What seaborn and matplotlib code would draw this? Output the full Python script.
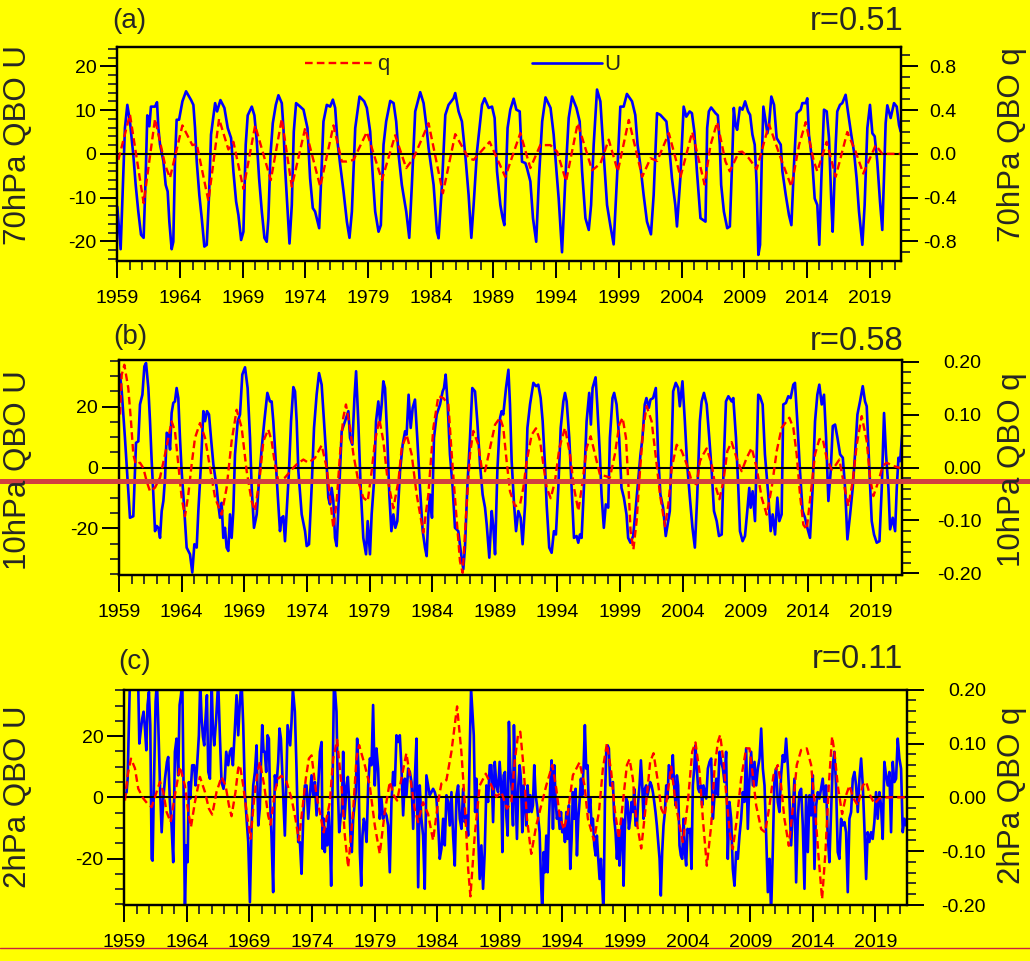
import numpy as np
import pandas as pd
import matplotlib
matplotlib.use("Agg")
import matplotlib.pyplot as plt
import seaborn as sns
from matplotlib.lines import Line2D
from matplotlib.ticker import MultipleLocator, FixedLocator

sns.set_style("ticks")
plt.rcParams['font.family'] = ['Liberation Sans', 'DejaVu Sans']
plt.rcParams['axes.unicode_minus'] = False
plt.rcParams['lines.scale_dashes'] = False

# ---------------- data: (month index since Jan 1959, value) ----------------
# (a) 70 hPa QBO U
a_u1 = [(0,-12.1),(3.2,-21.8),(7.3,5.9),(9.6,11.2),(12.1,7.4),(15.3,-0.2),(17.6,-7.1),(20.1,-13.2),(22.7,-18.5),(25.2,-19.2),
        (27.1,-5.6),(28.7,8.8),(30.7,6.3),(32.2,10.8),(36.1,10.8),(38.0,11.8),(39.3,5.9),(40.9,2.1),(44.1,-1.7),(46.3,-7.1),
        (48.2,-8.6),(49.8,-15.5),(52.0,-21.8),(53.6,-20.1),(55.2,-1.7),(56.8,7.8),(59.1,7.8),(62.3,12.0),(65.8,14.3),(70.6,12.3),
        (72.8,11.2),(74.4,5.9),(76.0,-1.7),(78.5,-9.4),(80.8,-14.7),(83.3,-21.2),(85.6,-20.8),(87.8,-9.4),(89.7,4.4),(93.6,11.6),
        (95.5,9.7),(98.7,12.3),(102.5,10.5),(105.7,5.9),(108.9,3.6),(111.1,-4.0),(113.7,-10.9),(115.9,-14.0),(118.5,-19.7),(120.7,-17.8),
        (122.9,2.1),(124.8,8.8),(128.7,10.8),(131.2,8.8),(133.5,2.8),(135.7,-5.6),(138.3,-13.2),(140.8,-19.2),(143.0,-20.1),(144.6,-14.7),
        (146.6,-0.2),(148.8,7.0),(151.7,11.2),(154.2,13.4),(157.4,11.6),(159.0,5.9),(160.6,-3.3),(162.5,-10.9),(164.8,-20.5),(167.0,-11.7),
        (168.9,5.1),(171.1,11.6),(175.0,10.8),(178.2,10.1)]
a_u2 = [(182.0,5.9),(184.5,-5.6),(187.1,-12.4),(189.3,-13.2),(193.2,-17.0),(195.1,-5.6),(197.3,7.4),(200.5,11.2),(203.7,10.8),(206.3,12.4),
        (208.5,10.5),(210.7,2.8),(213.3,-2.5),(216.5,-8.6),(219.7,-15.5),(222.2,-19.2),(224.5,-13.2),(227.7,5.9),(231.8,13.1),(236.3,12.0),
        (238.8,10.5),(242.0,5.1),(244.6,-5.6),(246.8,-13.2),(250.0,-17.8),(252.2,-16.3),(254.8,2.1),(257.3,7.4),(261.2,12.1),(264.4,11.6),
        (266.9,7.4),(269.2,-0.2),(272.3,-7.1),(276.5,-13.2),(279.4,-19.2),(281.9,-7.1),(285.1,9.7),(289.9,14.1),(293.1,11.6),(295.7,6.6),
        (297.9,1.3),(300.1,-2.5),(302.7,-7.1),(305.9,-17.8),(307.5,-19.3),(310.7,-7.1),(313.9,8.9),(317.0,11.2),(321.8,12.7),(323.4,13.9),
        (326.6,9.7),(329.8,7.4),(333.0,-0.2),(336.2,-9.4),(338.8,-19.2),(341.0,-11.7),(344.2,0.5),(349.0,11.2),(351.5,12.7),(355.4,10.5),
        (358.6,10.8),(361.1,8.2),(363.4,-4.0),(365.0,-7.9),(366.6,-11.7),(368.8,-14.7),(370.4,-16.3)]
a_u3 = [(373.5,5.9),(376.1,10.1),(379.3,12.6),(381.9,10.1),(385.1,9.7),(387.3,-1.8),(390.5,-2.1),(392.1,-3.3),(395.3,-6.3),(397.8,-14.7),
        (400.9,-20.1),(403.5,-5.6),(406.6,7.4),(409.8,12.9),(414.6,10.5),(417.6,4.4),(420.3,-4.0),(422.4,-10.2),(425.6,-22.5),(428.8,-5.6),
        (432.0,8.2),(435.2,13.1),(439.4,10.5),(442.5,7.4),(444.8,-4.0),(448.0,-14.7),(451.2,-17.4),(453.4,-11.7),(455.9,2.1),(459.1,14.7),
        (462.3,12.0),(465.5,-0.2),(468.7,-11.7),(471.8,-16.3),(475.0,-20.7),(478.2,-5.6),(481.4,10.8),(484.6,10.8),(487.7,13.7),(492.6,12.0),
        (495.7,8.9),(497.9,2.1),(500.5,-2.5),(503.7,-9.4),(506.9,-15.5),(510.7,-18.4),(513.3,-9.4),(516.5,9.3),(519.7,8.9),(525.5,7.4),
        (528.6,0.5),(530.8,-5.6),(534.0,-11.7),(535.6,-16.6),(538.8,-5.6),(542.0,10.8),(544.5,8.5),(547.7,9.7),(549.9,9.3),(552.2,5.1),
        (554.7,-4.0)]
a_u4 = [(558.1,-14.7),(562.9,-15.5),(564.5,5.9),(566.1,9.7),(568.3,10.6),(572.5,9.3),(574.7,8.8),(576.6,2.1),(577.9,-7.1),(580.5,-13.2),
        (583.7,-17.0),(586.2,-16.6),(588.4,-1.8),(590.0,10.5),(591.6,6.6),(593.2,5.5),(595.8,10.6),(598.3,10.1),(600.8,12.0),(603.7,9.7),
        (605.6,8.9),(607.8,4.4),(610.0,2.1),(611.9,-7.1),(613.5,-23.1),(615.1,-20.8),(616.7,-1.8),(618.3,10.8),(620.5,7.4),(622.1,4.7),
        (623.7,6.6),(625.9,13.1),(628.5,11.2),(631.0,3.6),(634.9,2.1),(636.5,-4.0),(639.7,-9.4),(642.8,-14.0),(645.1,-16.3),(647.6,-2.5),
        (650.2,9.3),(654.0,10.1),(655.6,11.6),(658.8,11.6),(660.3,12.7),(661.9,4.4),(665.1,-1.8),(667.4,-10.2),(669.9,-11.7),(671.8,-20.8),
        (673.8,-5.6),(676.3,10.1),(678.9,9.7),(681.1,3.6),(683.3,-10.9),(684.6,-17.8),(687.5,2.1),(689.0,9.7),(691.6,11.2),(693.8,11.6),
        (697.0,13.5),(699.2,9.7),(702.4,4.4),(705.0,0.5),(707.5,-5.6),(709.8,-13.2),(713.0,-20.8),(715.2,-11.7),(717.8,5.9),(720.3,11.2),
        (722.6,4.7),(724.8,4.0),(727.3,-1.8),(729.9,-10.9),(732.1,-17.4),(733.7,-5.6),(735.3,7.0),(736.9,11.1),(740.1,8.2),(743.3,11.6),
        (745.9,10.8),(748.1,6.6),(749.7,5.1)]
# (a) 70 hPa QBO q
a_q1 = [(1.0,-0.055),(12.1,0.36),(25.2,-0.45),(36.1,0.32),(45.7,-0.10),(50.4,-0.22),(62.3,0.26),(71.8,0.08),(76.0,0.09),(87.2,-0.43),
        (97.4,0.32),(106.3,0.04),(111.1,0.11),(120.7,-0.32),(131.9,0.26),(146.9,-0.24),(157.4,0.32),(167.0,-0.30),(179.8,0.235)]
a_q2 = [(194.2,-0.30),(206.9,0.26),(214.9,-0.07),(219.7,-0.07),(226.1,-0.055),(238.8,0.20),(253.2,-0.24),(265.9,0.17),(276.5,-0.13),
        (283.5,-0.04),(297.9,0.28),(311.6,-0.36),(323.4,0.18),(336.2,-0.04),(341.0,-0.055),(356.3,0.11),(371.3,-0.21)]
a_q3 = [(385.7,0.19),(395.3,-0.13),(404.8,0.08),(414.4,0.08),(420.9,0.02),(429.5,-0.25),(440.6,0.28),(454.4,-0.15),(462.3,-0.09),
        (470.3,0.13),(479.0,-0.16),(489.5,0.31),(502.3,-0.21),(510.3,-0.04),(516.7,-0.065),(527.8,0.19),(539.0,-0.21),(550.2,0.20),(562.0,-0.28)]
a_q4 = [(567.7,0.08),(574.1,0.29),(582.0,-0.07),(586.2,-0.16),(594.8,0.015),(598.0,0.02),(604.4,-0.04),(611.9,-0.14),(623.7,0.27),
        (634.9,-0.04),(645.1,-0.30),(652.4,0.08),(658.8,0.29),(666.6,-0.07),(669.9,-0.16),(678.9,0.11),(687.5,-0.21),(698.6,0.20),
        (706.6,0.02),(713.9,-0.18),(725.8,0.08),(732.1,0.0),(749.7,0.0)]

# (b) 10 hPa QBO U
b_u1 = [(1.0,30.5),(2.6,25.0),(5.7,9.7),(8.3,-4.5),(10.5,-16.5),(13.7,-16.0),(15.3,-1.2),(16.3,8.1),(18.5,8.6),(20.1,20.7),
        (22.4,23.9),(24.3,33.2),(25.9,34.3),(28.1,26.1),(29.7,15.2),(31.3,2.1),(32.9,-8.9),(34.5,-20.9),(36.1,-19.2),(37.7,-19.8),
        (39.3,-23.1),(40.9,-14.3),(42.5,-11.0),(44.1,-3.4),(45.7,11.4),(47.3,10.8),(48.9,5.9),(50.4,17.9),(52.0,21.2),(53.6,21.7),
        (55.2,26.1),(56.8,22.8),(58.4,9.7),(60.0,-1.2),(61.6,-8.9),(63.2,-17.6),(64.8,-26.3),(68.0,-28.5),(70.2,-34.5),(72.2,-25.2),
        (74.4,-26.3),(76.0,-14.3),(78.5,1.0),(80.8,18.5),(82.4,15.2),(84.3,18.5),(86.2,17.4),(88.1,9.7),(90.4,1.0),(93.6,-6.7),
        (95.1,-12.1),(96.7,-16.5),(98.3,-11.6),(99.9,-23.1),(101.5,-19.8),(103.1,-26.3),(104.7,-27.4),(106.3,-15.4),(107.9,-23.1),(109.5,-14.3),
        (111.1,4.3),(113.7,15.2),(115.9,17.4),(118.1,30.5),(120.7,32.9),(123.2,26.1),(125.5,9.7),(127.1,-6.7),(129.3,-19.8),(131.9,-15.4),
        (134.1,-4.5),(136.7,6.4),(139.2,15.2),(142.1,24.5),(144.6,21.7),(146.2,21.7),(147.8,15.2),(149.4,6.4),(152.0,-8.9),(154.2,-20.9),
        (155.8,-16.5),(157.4,-16.0),(159.0,-24.2),(160.6,-14.3),(162.8,-1.2),(164.8,15.2),(167.0,26.4),(168.6,25.0),(170.2,15.2),(171.8,-1.2),
        (175.0,-15.4),(178.2,-20.9),(179.8,-25.8),(182.0,-25.2)]
b_u2 = [(184.5,-6.7),(186.8,13.0),(189.3,23.9),(191.6,31.0),(194.1,27.2),(196.6,14.1),(198.4,4.3),(200.5,-9.9),(202.1,-12.1),(203.7,-6.7),
        (205.3,-11.0),(206.9,-23.1),(208.5,-25.8),(211.0,-6.7),(213.3,11.9),(216.5,15.2),(219.7,18.5),(221.3,9.7),(223.5,7.5),(225.5,22.8),
        (227.1,31.6),(229.2,15.2),(231.5,-6.7),(234.0,-23.1),(236.6,-28.5),(238.2,-17.6),(240.4,-28.5),(242.0,-15.4),(244.3,-4.5),(246.2,15.2),
        (248.4,21.7),(250.0,15.2),(251.6,20.7),(253.2,28.3),(254.8,26.1),(257.0,9.7),(258.9,-8.9),(260.9,-20.9),(262.8,-15.4),(264.7,-19.8),
        (266.6,-17.6),(269.2,-1.2),(271.7,7.5),(274.0,11.9),(275.5,10.8),(277.4,23.9),(279.4,13.0),(281.3,19.6),(283.5,22.3),(285.7,9.7),
        (288.3,-6.7),(290.9,-20.9),(293.1,-26.3),(294.7,-29.1),(296.3,-15.4),(297.9,-8.9),(299.8,-16.5),(301.7,9.7),(304.3,17.4),(307.5,20.7),
        (310.0,25.0),(311.3,26.1),(312.9,30.5),(314.8,20.7),(317.0,4.3),(319.6,-6.7),(321.8,-19.8),(325.0,-20.9),(327.3,-27.4),(329.8,-33.4),
        (331.4,-26.3),(333.6,-6.7),(336.2,9.7),(338.4,26.1),(341.0,25.0),(343.2,15.2),(345.8,1.0),(348.3,-8.9),(350.6,-13.2),(352.2,-18.7),
        (354.7,-29.6),(357.0,-14.3),(358.6,-19.8),(360.2,-28.5),(362.4,-1.2),(365.0,16.3)]
b_u3 = [(366.5,18.5),(368.1,17.4),(370.7,26.1),(373.0,32.1),(374.5,20.7),(376.1,2.1),(378.4,-12.1),(380.3,-20.9),(382.5,-14.3),(384.7,-16.5),
        (386.6,-25.2),(389.0,-12.1),(391.2,13.0),(393.7,20.7),(396.9,27.8),(399.4,26.7),(401.6,27.2),(403.9,22.8),(405.8,15.2),(408.0,1.0),
        (409.6,-12.1),(412.1,-26.3),(414.4,-28.0),(416.6,-20.9),(418.5,-22.0),(420.8,-6.7),(423.1,13.0),(425.6,21.7),(427.2,24.5),(428.8,21.7),
        (431.3,9.7),(433.6,-6.7),(435.8,-23.1),(438.3,-22.5),(439.9,-24.7),(441.5,-22.0),(443.1,-23.1),(445.3,-6.7),(447.9,15.2),(450.4,24.5),
        (452.0,14.1),(453.6,26.1),(456.5,29.6),(458.1,20.7),(460.6,4.3),(462.2,-8.9),(464.4,-19.8),(466.3,-12.1),(468.6,-13.2),(470.2,9.7),
        (472.7,22.8),(474.3,24.5),(476.6,20.7),(479.1,9.7),(481.3,-6.7),(483.6,-9.9),(486.1,-15.4),(487.7,-23.1),(489.9,-24.7),(492.5,-22.5),
        (495.0,-13.2),(497.2,-4.5),(499.5,4.3),(501.4,9.7),(503.6,20.7),(505.2,22.8),(507.5,19.6),(509.1,22.3),(511.6,22.8),(514.2,26.1),
        (516.4,4.3),(518.6,-8.9),(521.2,-13.2),(523.7,-22.5),(526.0,-17.6),(527.6,-14.3),(529.2,4.3),(530.8,25.0),(533.3,27.8),(535.6,26.1),
        (537.2,20.1),(539.7,28.3),(542.0,15.2),(544.2,1.0),(546.8,-9.9),(549.3,-19.8),(551.6,-26.3),(553.8,-9.9),(556.4,15.2)]
b_u4 = [(558.1,21.7),(560.3,24.5),(562.9,20.7),(565.4,9.7),(567.7,-1.2),(569.9,-14.3),(572.5,-17.6),(574.7,-22.5),(577.3,-22.0),(579.5,4.3),
        (581.4,21.7),(583.7,23.4),(586.8,21.7),(588.4,22.8),(591.0,9.7),(593.2,-6.7),(594.8,-20.9),(597.3,-24.2),(599.6,-22.5),(601.8,-14.3),
        (603.7,-6.7),(605.0,-13.2),(606.9,-7.8),(609.2,-17.6),(610.8,4.3),(612.3,23.9),(613.9,23.4),(616.5,20.7),(618.7,4.3),(621.9,-8.9),
        (624.2,-20.9),(626.1,-15.4),(628.4,-22.0),(630.6,-9.9),(632.5,-17.6),(634.7,-15.4),(636.3,20.7),(638.8,21.2),(641.1,23.4),(643.3,22.8),
        (645.9,27.2),(647.5,27.8),(649.7,15.2),(652.3,-1.2),(654.8,-14.3),(657.1,-16.5),(659.3,-19.8),(661.9,-23.1),(664.4,-6.7),(666.7,15.2),
        (668.9,23.9),(670.8,27.2),(673.1,20.7),(675.3,23.9),(677.3,9.7),(679.5,-11.0),(681.7,-1.2),(683.7,13.6),(685.9,14.1),(688.2,9.7),
        (690.7,4.3),(693.3,3.2),(695.5,-6.7),(697.7,-23.6),(700.3,-15.4),(702.8,-6.7),(705.0,4.3),(707.3,17.4),(709.8,21.7),(712.4,26.7),
        (714.6,21.7),(716.2,20.1),(718.8,-1.2),(721.0,-17.6),(723.2,-22.0),(725.8,-24.7),(728.4,-24.2),(730.6,-6.7),(732.8,17.9),(734.7,4.3),
        (737.0,-6.7),(738.6,-20.3),(741.1,-16.5),(743.4,-20.9),(745.0,-6.7),(746.6,3.2),(748.2,2.1),(750.4,11.9)]
# (b) 10 hPa QBO q
b_q1 = [(1.0,0.100),(2.6,0.175),(5.1,0.194),(8.9,0.150),(11.5,0.087),(13.7,0.025),(16.0,0.006),(20.1,0.009),(23.3,-0.001),(26.5,-0.026),
        (29.7,-0.045),(34.5,-0.038),(39.3,-0.019),(44.1,0.025),(50.4,0.087),(53.6,0.069),(56.8,0.006),(60.0,-0.057),(63.2,-0.092),(66.4,-0.051),
        (69.6,0.006),(72.8,0.056),(77.6,0.084),(82.4,0.056),(87.2,-0.001),(92.0,-0.057),(98.3,-0.089),(103.1,-0.038),(107.9,0.050),(112.7,0.109),
        (117.5,0.075),(122.3,-0.007),(127.1,-0.064),(130.3,-0.082),(135.1,-0.013),(138.3,0.050),(143.0,0.072),(146.2,0.050),(149.4,0.006),(152.6,-0.026),
        (159.0,-0.019),(165.4,-0.004),(170.2,0.006),(176.6,0.015),(181.4,0.009)]
b_q2 = [(187.7,0.018),(194.1,0.042),(199.0,-0.001),(202.1,-0.057),(205.3,-0.114),(208.5,-0.064),(211.7,0.025),(214.8,0.094),(217.4,0.119),
        (221.3,0.075),(224.5,0.025),(229.2,-0.026),(234.0,-0.057),(238.2,-0.064),(242.0,-0.007),(245.2,0.050),(249.4,0.091),(253.2,0.050),
        (257.0,-0.019),(262.8,-0.077),(267.6,-0.026),(270.8,0.037),(275.5,0.062),(280.3,0.025),(285.1,-0.051),(291.5,-0.123),(296.3,-0.051),
        (301.1,0.075),(305.9,0.135),(310.7,0.131),(315.5,0.119),(318.7,0.025),(321.8,-0.057),(326.6,-0.177),(329.2,-0.199),(333.0,-0.070),
        (336.2,0.025),(339.4,0.069),(344.2,0.043),(347.4,-0.001),(350.6,-0.007),(355.4,0.037),(360.2,0.081),(365.0,0.094)]
b_q3 = [(368.1,0.075),(371.3,0.012),(374.5,-0.045),(379.3,-0.073),(384.1,-0.070),(387.3,-0.038),(390.5,0.012),(395.3,0.062),(399.4,0.074),
        (403.3,0.050),(406.5,0.006),(409.6,-0.038),(413.5,-0.058),(417.6,-0.026),(421.8,0.037),(427.2,0.075),(432.0,0.025),(435.8,-0.038),
        (440.0,-0.082),(444.1,-0.026),(447.9,0.037),(451.8,0.059),(455.9,0.025),(460.7,-0.014),(465.5,-0.016),(470.2,-0.019),(475.0,0.025),
        (479.2,0.081),(482.4,0.094),(485.6,0.056),(487.8,-0.026),(490.0,-0.120),(492.7,-0.155),(495.8,-0.101),(499.0,-0.007),(502.2,0.075),
        (505.4,0.116),(510.2,0.087),(515.0,0.006),(518.2,-0.051),(523.0,-0.111),(526.2,-0.070),(529.4,-0.001),(534.2,0.043),(539.0,0.031),
        (543.8,0.006),(548.6,-0.026),(553.3,-0.032)]
b_q4 = [(556.5,0.012),(559.7,0.025),(562.9,0.036),(567.7,0.006),(570.9,-0.032),(575.1,-0.060),(578.9,-0.026),(582.7,0.031),(586.8,0.048),
        (591.6,0.018),(596.4,-0.007),(601.2,0.018),(606.0,0.037),(610.8,-0.001),(615.6,-0.057),(620.4,-0.089),(625.2,-0.038),(630.0,0.031),
        (634.7,0.075),(642.1,0.094),(645.9,0.075),(649.1,0.025),(652.3,-0.051),(655.5,-0.108),(658.7,-0.117),(662.5,-0.051),(666.7,0.025),
        (670.8,0.053),(674.0,0.055),(677.8,0.018),(682.6,-0.004),(685.9,0.003),(690.0,0.015),(693.8,-0.026),(698.6,-0.073),(702.8,-0.026),
        (706.6,0.043),(711.4,0.097),(716.2,0.050),(719.4,-0.019),(722.6,-0.054),(727.4,-0.026),(731.5,0.003),(735.3,0.009),(741.7,0.003),(748.1,-0.001)]

# (c) 2 hPa QBO U
c_u1 = [(0.6,0.7),(2.2,1.7),(3.2,6.1),(5.5,40),(9.5,45),(13.4,36),(14.4,17.6),(16.0,22.5),(17.2,25.8),(18.5,28.0),
        (19.8,22.5),(21.1,15.4),(22.3,30.2),(23.6,34.5),(24.9,23.6),(26.2,-20.1),(27.1,-20.7),(28.4,3.9),(30.0,31.3),(31.3,38),
        (32.6,23.6),(34.2,3.9),(35.8,-11.4),(37.4,-0.4),(39.0,6.1),(40.9,11.6),(42.1,13.2),(43.7,-1.5),(45.3,-9.2),(46.9,-21.2),
        (48.5,14.9),(50.1,19.2),(51.7,7.2),(53.0,30.2),(54.3,33.4),(55.6,38),(56.8,3.9),(58.1,-38),(59.4,-15.7),(60.7,-21.2),
        (61.9,5.0),(63.2,-0.4),(65.1,10.5),(67.0,10.5),(68.3,3.9),(69.6,9.4),(71.5,20.3),(72.8,38),(74.1,25.8),(75.4,19.8),
        (76.6,17.0),(77.3,22.5),(79.2,33.4),(80.5,8.3),(82.1,6.1),(83.7,38),(84.9,22.5),(86.2,17.0),(88.1,25.8),(90.0,38),
        (91.6,20.3),(93.2,5.0),(95.1,2.8),(96.4,6.1),(97.7,14.9),(99.6,10.5),(101.2,14.9),(102.8,16.0),(104.1,10.5),(106.0,22.5),
        (107.6,33.4),(109.2,20.3),(110.8,31.3),(112.4,38),(114.0,23.6),(115.6,1.7),(117.2,-7.0),(118.8,-14.6),(120.4,-34.3),(122.0,-9.2),
        (123.6,3.9),(125.2,8.3),(126.8,17.0),(128.4,-9.2),(129.9,-3.7),(130.9,9.4),(132.2,23.6),(133.5,14.9),(134.7,14.9),(136.0,8.3),
        (137.3,20.3),(138.6,19.2),(139.8,-1.5),(141.1,-12.5),(142.7,-31.0),(144.3,7.2),(145.9,3.9),(147.5,11.6),(148.8,22.5),(150.1,19.2),
        (151.3,9.4),(152.6,-1.5),(153.9,-12.5),(155.5,7.2),(156.5,23.6),(157.7,20.3),(159.0,17.0),(160.3,24.7),(161.6,35.6),(163.5,28.0),
        (165.1,9.4),(166.7,-14.6)]
c_u2 = [(168.3,-14.6),(169.9,-25.0),(171.5,-7.0),(173.1,3.9),(174.7,3.9),(176.3,-7.0),(177.9,0.7),(179.5,7.2),(181.1,0.7),(182.7,5.0),
        (184.3,-5.9),(185.9,3.9),(187.5,14.9),(189.1,18.1),(190.0,-16.8),(191.3,-7.0),(192.2,-17.9),(193.2,-10.3),(194.5,-15.7),(195.8,-4.8),
        (197.0,-12.5),(198.3,-28.9),(199.6,3.9),(200.9,35.1),(202.1,34.5),(203.4,28.0),(204.7,2.8),(206.0,-11.4),(207.3,-7.0),(208.5,-4.8),
        (209.8,14.9),(211.1,-7.0),(213.0,3.9),(214.3,6.7),(215.6,-1.5),(216.8,-12.5),(218.1,-17.9),(219.4,-7.0),(220.7,-2.6),(221.9,1.7),
        (223.2,19.2),(224.5,9.4),(225.8,-17.9),(227.1,-28.9),(228.3,-12.5),(229.6,-7.0),(230.9,-9.2),(232.2,-14.6),(233.8,3.9),(235.4,12.7),
        (237.0,10.5),(238.5,30.2),(240.1,3.9),(241.7,16.0),(243.3,9.4),(244.9,-7.0),(246.5,-0.4),(248.1,-7.0),(249.7,-4.8),(251.3,-5.9),
        (252.9,-9.2),(254.5,-24.5),(256.1,-1.5),(257.7,8.3),(259.3,3.9),(260.9,20.3),(262.5,18.1),(264.1,20.3),(265.7,9.4),(267.3,-5.9),
        (268.9,6.1),(270.5,0.7),(272.1,9.4),(273.7,8.3),(275.3,5.0),(276.9,-10.3),(278.5,6.1),(280.1,19.2),(281.7,-29.4),(283.2,3.9),
        (284.8,-7.0),(286.4,-12.5),(288.0,-29.9),(289.6,7.2),(291.2,3.9),(292.8,0.7),(294.4,1.7),(296.0,2.8),(297.6,1.7),(299.2,-0.4),
        (300.8,-8.1),(302.4,-20.1),(304.0,-16.8),(305.6,-7.0),(307.2,-15.7),(308.8,0.7),(310.4,-1.5),(312.0,-9.2),(313.6,1.7),(315.2,-12.5),
        (316.8,-22.3),(318.4,0.7),(320.0,3.9),(321.6,-7.0),(323.2,-10.3),(324.8,2.8),(326.4,-8.1),(328.0,-5.9),(329.6,-12.5),(331.1,14.9),
        (332.4,35.6),(333.7,28.0),(335.0,20.3),(336.3,-4.8),(337.5,6.1),(339.1,-11.4),(340.7,-26.7),(342.3,-15.7),(343.9,-29.9),(345.5,-17.9),
        (347.1,3.9),(348.7,-1.5),(350.3,10.5),(351.9,10.5),(353.5,-8.1),(355.1,11.6),(356.7,3.9),(358.3,1.7)]
c_u3 = [(359.8,11.6),(361.4,2.8),(362.4,-17.9),(363.6,7.2),(364.9,8.3),(366.2,-5.9),(367.5,-12.5),(368.7,24.7),(370.0,9.4),(371.3,2.8),
        (372.6,-9.2),(373.5,23.6),(374.8,3.9),(376.4,-13.6),(377.7,3.9),(379.0,10.5),(380.2,6.1),(381.5,-11.4),(382.8,3.9),(384.1,-2.6),
        (385.3,-9.2),(386.6,3.9),(387.9,-4.8),(389.2,0.7),(390.5,-4.8),(391.7,-2.6),(393.0,10.5),(394.3,0.7),(395.6,-2.6),(396.8,-7.0),
        (398.1,-11.4),(399.4,-26.7),(400.7,-38),(402.0,-17.9),(403.2,-24.5),(404.5,-12.5),(405.8,-24.5),(407.1,-7.0),(408.3,3.9),(409.6,12.1),
        (410.9,-10.3),(412.2,10.5),(413.4,-0.4),(414.7,-7.0),(416.0,-4.8),(417.3,-10.3),(418.6,-4.8),(419.8,-11.4),(421.1,-9.2),(422.4,-14.6),
        (423.7,-4.8),(424.9,-13.6),(426.2,-2.6),(427.5,-23.4),(428.8,-13.6),(430.0,1.7),(431.3,-7.0),(432.6,2.8),(433.9,-19.0),(435.2,-7.0),
        (436.4,-1.5),(437.7,6.1),(439.0,0.7),(440.3,10.5),(441.5,23.6),(442.8,9.4),(444.1,10.5),(445.4,-4.8),(446.7,-0.4),(447.9,-9.2),
        (449.2,-7.0),(450.5,-15.7),(451.8,-19.0),(453.0,-12.5),(454.3,-20.1),(455.6,-26.7),(456.9,-20.1),(458.1,-28.9),(459.4,-38),(460.7,-1.5),
        (462.0,14.9),(463.3,17.0),(464.5,16.0),(465.8,3.9),(467.1,3.9),(468.4,5.0),(469.6,-7.0),(470.9,-11.4),(472.2,-20.1),(473.5,-12.5),
        (474.7,-22.3),(476.0,-12.5),(477.3,-7.0),(478.6,-28.9),(479.9,-9.2),(481.1,-0.4),(482.4,-1.5),(483.7,-10.3),(485.0,-7.0),(486.2,-1.5),
        (487.5,-4.8),(488.8,2.8),(490.1,-9.2),(491.4,-9.2),(492.6,-1.5),(493.9,3.9),(495.2,12.1),(496.5,3.9),(497.7,-7.0),(499.0,2.8),
        (500.3,3.9),(501.6,0.7),(502.8,2.8),(504.1,5.0),(505.4,3.9),(506.7,1.7),(508.0,-1.5),(509.2,-4.8),(510.5,-9.2),(511.8,-14.6),
        (513.1,-20.1),(514.3,-32.1),(515.6,-17.9),(516.9,-9.2),(518.2,-4.8),(519.5,3.9),(520.7,-0.4),(522.0,10.5),(523.3,9.4),(524.6,6.1),
        (525.8,13.8),(527.1,3.9),(528.4,-2.6),(529.7,7.2),(530.9,3.9),(532.2,-15.7),(533.5,-19.0),(534.8,-20.1),(536.1,-7.0),(537.3,-17.9),
        (538.6,-22.3),(539.9,-10.3),(541.2,-11.4),(542.4,-10.3),(543.7,-23.4),(545.0,3.9),(546.3,9.4),(547.5,17.0),(548.8,9.4),(550.1,2.8),
        (551.4,1.7),(552.7,3.9),(553.9,-2.6),(555.2,3.9),(556.5,1.7),(557.8,-0.4),(559.4,9.4),(561.0,11.6)]
c_u4 = [(562.6,12.7),(564.2,-7.0),(565.8,0.7),(567.4,6.1),(569.0,0.7),(570.6,14.9),(572.2,11.6),(573.8,9.4),(575.3,5.0),(576.9,14.9),
        (578.5,-20.1),(580.1,-1.5),(581.7,-7.0),(583.3,-23.4),(584.9,-28.9),(586.5,-17.9),(588.1,-20.1),(589.7,-12.5),(591.3,-7.0),(592.9,1.7),
        (594.5,-1.5),(596.1,16.0),(597.7,-10.3),(599.3,6.1),(600.9,14.9),(602.5,3.9),(604.1,11.6),(605.7,3.9),(607.3,9.4),(608.9,12.7),
        (610.5,22.5),(612.1,9.4),(613.7,3.9),(615.3,-12.5),(616.9,-31.0),(618.5,-20.1),(620.0,-38),(621.6,-17.9),(623.2,6.1),(624.8,9.4),
        (626.4,-1.5),(628.0,-4.8),(629.6,7.2),(631.2,13.8),(632.8,11.6),(634.4,19.2),(636.0,10.5),(637.6,-0.4),(639.2,-15.7),(640.8,-4.8),
        (642.4,6.1),(644.0,-27.8),(645.6,-7.0),(647.2,1.7),(648.8,2.8),(650.4,-9.2),(652.0,-29.9),(653.6,0.7),(655.2,-17.9),(656.8,0.7),
        (658.4,-5.9),(660.0,7.2),(661.6,-23.4),(663.2,-2.6),(664.8,1.7),(666.3,-0.4),(667.9,2.8),(669.5,6.1),(671.1,-1.5),(672.7,3.9),
        (674.3,-12.5),(675.9,-21.2),(677.5,-4.8),(679.1,10.5),(680.7,14.9),(682.3,3.9),(683.9,-17.9),(685.5,-20.1),(687.1,-7.0),(688.7,-9.2),
        (690.3,-8.1),(691.9,-11.4),(693.5,-31.0),(695.1,-7.0),(696.7,-4.8),(698.3,6.1),(699.9,8.3),(701.5,3.9),(703.1,-4.8),(704.7,6.1),
        (706.3,12.7),(707.9,3.9),(709.5,-10.3),(711.1,-26.7),(712.6,-11.4),(714.2,-14.6),(715.8,-11.4),(717.4,-13.6),(719.0,-8.1),(720.6,1.7),
        (722.2,-7.0),(723.8,1.7),(725.4,-2.6),(727.0,-13.6),(728.6,11.6),(730.2,7.2),(731.8,3.9),(733.4,8.3),(735.0,-11.4),(736.6,11.6),
        (738.2,5.0),(739.8,6.1),(741.4,19.2),(743.0,12.7),(744.6,9.4),(746.2,-11.4),(747.8,-7.0),(749.4,-9.2)]
# (c) 2 hPa QBO q
c_q1 = [(0.6,-0.006),(3.2,0.041),(6.4,0.072),(10.2,0.054),(13.4,0.016),(18.2,-0.002),(22.3,-0.012),(26.2,-0.018),(31.0,0.010),(34.2,0.029),
        (37.4,0.010),(40.5,-0.027),(44.4,-0.046),(48.5,0.004),(53.3,0.057),(58.1,0.022),(61.3,-0.027),(63.9,-0.055),(67.7,-0.009),(72.5,0.038),
        (77.3,0.010),(81.1,-0.021),(84.3,-0.032),(88.4,0.010),(93.2,0.038),(97.1,0.022),(100.3,-0.015),(102.8,-0.035),(106.6,0.010),(109.2,0.054),
        (110.8,0.060),(114.0,0.022),(117.2,-0.027),(121.0,-0.077),(124.5,-0.002),(127.7,0.047),(130.0,0.066),(134.1,0.022),(137.9,-0.034),(140.2,-0.051),
        (144.3,0.010),(147.5,0.035),(150.7,0.040),(155.5,0.029),(160.3,-0.002),(164.1,-0.040),(167.3,-0.080),(171.5,-0.009),(174.0,0.035),(176.9,0.072)]
c_q2 = [(179.5,0.078),(184.2,0.004),(191.2,-0.065),(197.0,-0.009),(200.2,0.072),(204.0,0.107),(208.2,0.022),(211.4,-0.071),(214.6,-0.130),
        (219.3,-0.027),(222.5,0.072),(225.1,0.097),(230.5,0.060),(235.3,0.022),(240.1,-0.052),(244.9,-0.105),(249.7,-0.027),(254.5,0.029),
        (258.3,0.004),(261.5,-0.006),(265.6,0.035),(270.4,0.082),(275.2,0.022),(278.4,-0.021),(281.6,-0.046),(286.4,-0.009),(291.2,-0.031),
        (296.0,-0.080),(300.8,-0.009),(304.0,0.026),(308.8,0.032),(313.6,0.085),(319.0,0.169),(323.1,0.085),(326.3,-0.009),(329.6,-0.133),
        (331.8,-0.184),(335.9,-0.071),(340.7,0.022),(346.5,0.044),(351.9,0.022),(356.7,0.001),(361.5,0.010)]
c_q3 = [(366.8,-0.021),(371.0,-0.009),(374.2,0.066),(377.4,0.116),(379.6,0.122),(382.8,0.054),(386.0,-0.040),(390.1,-0.105),(394.9,-0.052),
        (399.7,-0.015),(404.5,0.022),(410.3,0.060),(414.1,0.016),(417.3,-0.034),(421.4,-0.060),(425.3,-0.027),(430.0,0.041),(436.4,0.065),
        (441.2,0.022),(444.4,-0.040),(450.2,-0.080),(455.0,-0.027),(458.8,0.054),(462.6,0.100),(466.8,0.047),(470.0,-0.021),(474.1,-0.077),
        (478.6,0.004),(481.8,0.060),(484.3,0.071),(487.5,0.035),(490.7,-0.040),(495.5,-0.095),(500.3,-0.009),(504.1,0.066),(507.3,0.082),
        (511.5,0.029),(514.7,-0.021),(517.9,-0.034),(521.0,0.010),(524.2,0.057),(528.4,-0.009),(532.2,-0.052),(535.4,-0.083),(540.2,-0.009),
        (544.4,0.085),(547.5,0.102),(551.4,0.047),(554.6,-0.040),(558.4,-0.127)]
c_q4 = [(562.6,-0.052),(565.8,0.054),(569.0,0.103),(571.2,0.116),(574.4,0.066),(577.6,-0.009),(580.8,-0.071),(583.3,-0.096),(587.2,-0.040),
        (591.3,0.035),(596.1,0.091),(599.3,0.091),(602.5,0.041),(605.7,-0.015),(610.5,-0.059),(614.3,-0.065),(618.5,-0.015),(622.3,0.041),
        (626.4,0.060),(629.6,0.022),(632.8,-0.040),(637.0,-0.090),(640.8,-0.021),(644.6,0.060),(648.8,0.088),(654.2,0.091),(658.4,0.060),
        (661.6,-0.009),(665.7,-0.115),(668.9,-0.189),(672.1,-0.102),(675.3,0.022),(678.5,0.113),(680.7,0.085),(683.9,0.022),(688.1,-0.031),
        (691.9,0.004),(695.1,0.022),(698.9,-0.002),(703.1,-0.015),(707.9,0.022),(711.1,0.029),(714.9,0.004),(719.0,-0.012),(723.8,-0.002),
        (730.2,0.0),(749.4,0.0)]

titles = ["(a)", "(b)", "(c)"]
r_labels = ["r=0.51", "r=0.58", "r=0.11"]
u_labels = ["70hPa QBO U", "10hPa QBO U", "2hPa QBO U"]
q_labels = ["70hPa QBO q", "10hPa QBO q", "2hPa QBO q"]
year_ticks = list(range(1959, 2020, 5))
n_months = 750


def to_frame(segs, name):
    pts = [p for s in segs for p in s]
    return pd.DataFrame({"year": [1959 + p[0] / 12.0 for p in pts],
                         name: [p[1] for p in pts]})


W, H = 1030, 961
fig = plt.figure(figsize=(W / 100, H / 100), dpi=100, facecolor="#ffff00")


def fx(x):
    return x / W


def fy(y):
    return 1 - y / H


panels = [
    dict(rect=(117.3, 46.7, 901.0, 261.0), u=to_frame([a_u1, a_u2, a_u3, a_u4], "U"),
         q=to_frame([a_q1, a_q2, a_q3, a_q4], "q"), ulim=24.5, qlim=0.98,
         umaj=10, umin=2, qmaj=0.4, qmin=0.1, qfmt="{:.1f}", rpad=28,
         title_xy=(112, 21), r_xy=(903, 22), yl_y=145, yr_y=145),
    dict(rect=(119.0, 360.0, 902.0, 575.0), u=to_frame([b_u1, b_u2, b_u3, b_u4], "U"),
         q=to_frame([b_q1, b_q2, b_q3, b_q4], "q"), ulim=35.3, qlim=0.203,
         umaj=20, umin=5, qmaj=0.1, qmin=0.02, qfmt="{:.2f}", rpad=45,
         title_xy=(113, 337), r_xy=(903, 341), yl_y=470, yr_y=470),
    dict(rect=(124.3, 689.7, 906.7, 905.0), u=to_frame([c_u1, c_u2, c_u3, c_u4], "U"),
         q=to_frame([c_q1, c_q2, c_q3, c_q4], "q"), ulim=35.2, qlim=0.2,
         umaj=20, umin=5, qmaj=0.1, qmin=0.02, qfmt="{:.2f}", rpad=45,
         title_xy=(118, 662), r_xy=(903, 660), yl_y=797, yr_y=795),
]

tick_fs = 14
for i, p in enumerate(panels):
    x0, y0, x1, y1 = p["rect"]
    ax = fig.add_axes([fx(x0), fy(y1), (x1 - x0) / W, (y1 - y0) / H])
    ax.set_facecolor("#ffff00")
    ax2 = ax.twinx()
    ax2.patch.set_visible(False)

    sns.lineplot(data=p["u"], x="year", y="U", ax=ax, color="#0000ff", lw=1.9,
                 estimator=None, sort=False)
    ax2.axhline(0, color="black", lw=1.5, zorder=1)
    sns.lineplot(data=p["q"], x="year", y="q", ax=ax2, color="#ff0000", lw=1.7,
                 estimator=None, sort=False, zorder=2)
    ax2.lines[-1].set_dashes([5.5, 3.0])

    ax.set_xlim(1959, 1959 + n_months / 12.0)
    ax.set_ylim(-p["ulim"], p["ulim"])
    ax2.set_ylim(-p["qlim"], p["qlim"])
    ax.set_xlabel("")
    ax.set_ylabel("")
    ax2.set_ylabel("")

    ax.xaxis.set_major_locator(FixedLocator(year_ticks))
    ax.xaxis.set_minor_locator(MultipleLocator(1))
    ax.set_xticklabels([str(y) for y in year_ticks])
    ax.yaxis.set_major_locator(MultipleLocator(p["umaj"]))
    ax.yaxis.set_minor_locator(MultipleLocator(p["umin"]))
    ax2.yaxis.set_major_locator(MultipleLocator(p["qmaj"]))
    ax2.yaxis.set_minor_locator(MultipleLocator(p["qmin"]))
    qt = ax2.get_yticks()
    ax2.set_yticks(qt)
    ax2.set_yticklabels([p["qfmt"].format(0.0 if abs(v) < 1e-9 else v) for v in qt])
    ax2.set_ylim(-p["qlim"], p["qlim"])

    for a in (ax, ax2):
        for s in a.spines.values():
            s.set_linewidth(1.6)
            s.set_color("black")
        a.tick_params(which="major", direction="out", length=12, width=1.4,
                      labelsize=tick_fs, colors="black")
        a.tick_params(which="minor", direction="out", length=6.5, width=1.3)
    ax.tick_params(axis="x", which="major", pad=9)
    ax.tick_params(axis="y", which="major", pad=3)
    ax.tick_params(top=False, right=False, which="both")
    ax2.tick_params(axis="y", which="major", pad=p["rpad"])
    for lab in ax2.get_yticklabels():
        lab.set_horizontalalignment("right")

    tx, ty = p["title_xy"]
    fig.text(fx(tx), fy(ty), titles[i], fontsize=20, ha="left", va="center")
    rx, ry = p["r_xy"]
    fig.text(fx(rx), fy(ry), r_labels[i], fontsize=23.5, ha="right", va="center")
    fig.text(fx(18), fy(p["yl_y"]), u_labels[i], fontsize=22.5, rotation=90,
             ha="center", va="center")
    fig.text(fx(1012), fy(p["yr_y"]), q_labels[i], fontsize=22.5, rotation=90,
             ha="center", va="center")

    if i == 0:
        handles = [Line2D([], [], color="#ff0000", lw=1.7, dashes=[5.5, 3.0]),
                   Line2D([], [], color="#0000ff", lw=1.9)]
        ax2.legend(handles, ["q", "U"], ncol=2, frameon=False, loc="upper left",
                   bbox_to_anchor=(0.237, 0.975), fontsize=16, handlelength=3.15,
                   handletextpad=0.1, columnspacing=6.4, borderpad=0.1,
                   borderaxespad=0.0)

# stray red rules present in the reference image
fig.add_artist(Line2D([0, 1], [fy(481), fy(481)], transform=fig.transFigure,
                      color="#d24040", lw=3.6))
fig.add_artist(Line2D([0, 1], [fy(948), fy(948)], transform=fig.transFigure,
                      color="#cc2040", lw=1.0))

fig.savefig("out.png", dpi=100, facecolor="#ffff00")
